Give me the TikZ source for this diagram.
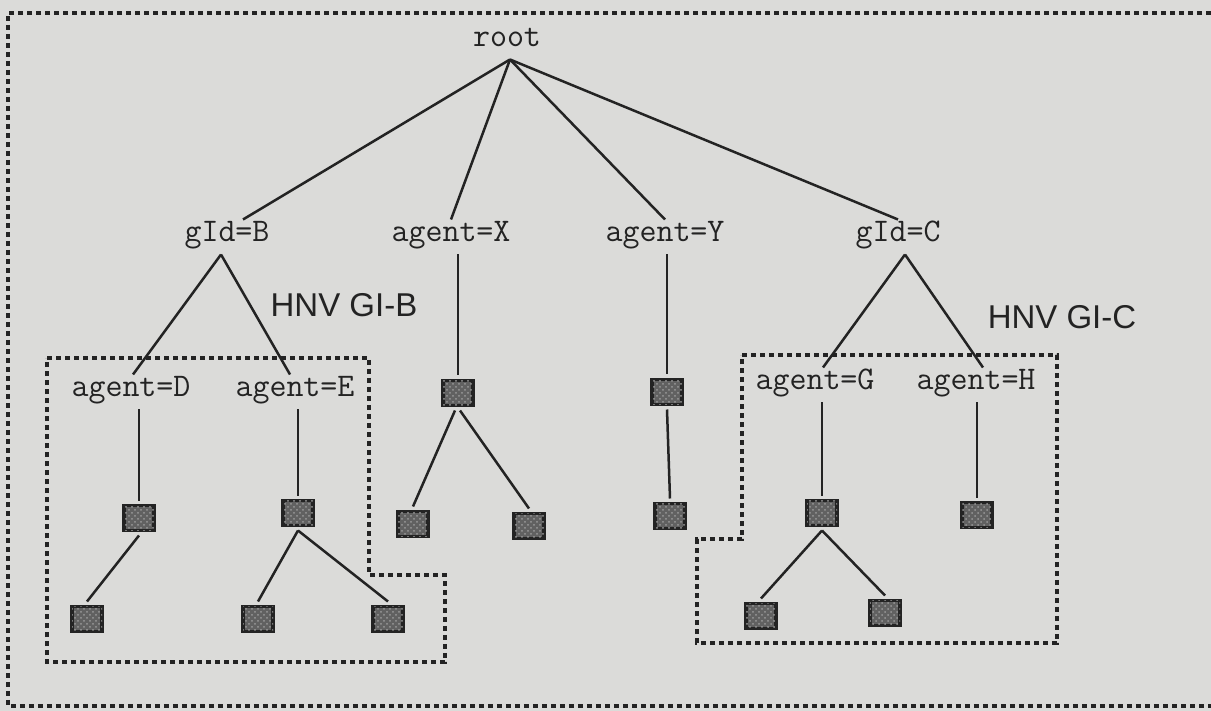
\documentclass[tikz,border=0pt]{standalone}
\usepackage{fontspec}
\setmainfont{Liberation Serif}
\newfontfamily\sansf{Liberation Sans}
\newcommand\monof{\ttfamily\addfontfeature{FakeBold=2}}
\usetikzlibrary{patterns,calc}
\definecolor{bgc}{RGB}{219,219,217}
\definecolor{ink}{RGB}{35,35,35}
\tikzset{
  lbl/.style={font=\monof\fontsize{16.5}{17}\selectfont, text=ink, inner sep=0pt,
              text height=0.7em, text depth=0.25em, outer sep=4pt},
  hnv/.style={font=\sansf\fontsize{16.5}{18}\selectfont, text=ink, inner sep=0pt},
  sq/.style={draw=ink, line width=1.8pt, fill=black!62, minimum width=15pt,
             minimum height=12.5pt, inner sep=0pt, outer sep=2.5pt,
             postaction={pattern=crosshatch dots, pattern color=gray!80}},
  edge/.style={draw=ink, line width=1.25pt},
  region/.style={draw=ink, line width=1.6pt, dash pattern=on 2.6pt off 1.9pt}
}
\begin{document}
\begin{tikzpicture}[x=0.5pt,y=-0.5pt]
\fill[bgc] (0,0) rectangle (1211,711);
\useasboundingbox (0,0) rectangle (1211,711);
% outer frame
\draw[region] (1211,13) -- (8,13) -- (8,706) -- (1211,706);
% regions
\draw[region] (47,358) -- (369,358) -- (369,575) -- (445,575) -- (445,662) -- (47,662) -- cycle;
\draw[region] (742,355) -- (1057,355) -- (1057,643) -- (697,643) -- (697,539) -- (742,539) -- cycle;
% labels
\node[lbl] (root) at (507,42) {root};
\node[lbl] (gB) at (227,237) {gId=B};
\node[lbl] (aX) at (451,237) {agent=X};
\node[lbl] (aY) at (665,237) {agent=Y};
\node[lbl] (gC) at (898,237) {gId=C};
\node[lbl] (aD) at (131,392) {agent=D};
\node[lbl] (aE) at (295,392) {agent=E};
\node[lbl] (aG) at (815,385) {agent=G};
\node[lbl] (aH) at (976,385) {agent=H};
\node[hnv] (hB) at (344,305) {HNV GI-B};
\node[hnv] (hC) at (1062,317) {HNV GI-C};
% squares
\node[sq] (sX) at (458,393) {};
\node[sq] (sX1) at (413,524) {};
\node[sq] (sX2) at (529,526) {};
\node[sq] (sY) at (667,392) {};
\node[sq] (sY1) at (670,516) {};
\node[sq] (sD) at (139,518) {};
\node[sq] (sD1) at (87,619) {};
\node[sq] (sE) at (298,513) {};
\node[sq] (sE1) at (258,619) {};
\node[sq] (sE2) at (388,619) {};
\node[sq] (sG) at (822,513) {};
\node[sq] (sG1) at (761,616) {};
\node[sq] (sG2) at (885,613) {};
\node[sq] (sH) at (977,515) {};
% edges from root
\draw[edge] ([xshift=1.5pt]root.south) -- ([xshift=8pt]gB.north);
\draw[edge] ([xshift=1.5pt]root.south) -- (aX.north);
\draw[edge] ([xshift=1.5pt]root.south) -- (aY.north);
\draw[edge] ([xshift=1.5pt]root.south) -- (gC.north);
% group B
\draw[edge] ([xshift=-3pt]gB.south) -- ([xshift=1pt]aD.north);
\draw[edge] ([xshift=-3pt]gB.south) -- ([xshift=-2.5pt]aE.north);
\draw[edge] (aD.south -| sD.north) -- (sD.north);
\draw[edge] (aE.south -| sE.north) -- (sE.north);
\draw[edge] (sD.south) -- (sD1.north);
\draw[edge] (sE.south) -- (sE1.north);
\draw[edge] (sE.south) -- (sE2.north);
% X and Y
\draw[edge] (aX.south -| sX.north) -- (sX.north);
\draw[edge] ([xshift=-1.5pt]sX.south) -- (sX1.north);
\draw[edge] ([xshift=1pt]sX.south) -- (sX2.north);
\draw[edge] (aY.south -| sY.north) -- (sY.north);
\draw[edge] (sY.south) -- (sY1.north);
% group C
\draw[edge] ([xshift=3.5pt]gC.south) -- ([xshift=4pt]aG.north);
\draw[edge] ([xshift=3.5pt]gC.south) -- ([xshift=3.5pt]aH.north);
\draw[edge] (aG.south -| sG.north) -- (sG.north);
\draw[edge] (aH.south -| sH.north) -- (sH.north);
\draw[edge] (sG.south) -- (sG1.north);
\draw[edge] (sG.south) -- (sG2.north);
\end{tikzpicture}
\end{document}
